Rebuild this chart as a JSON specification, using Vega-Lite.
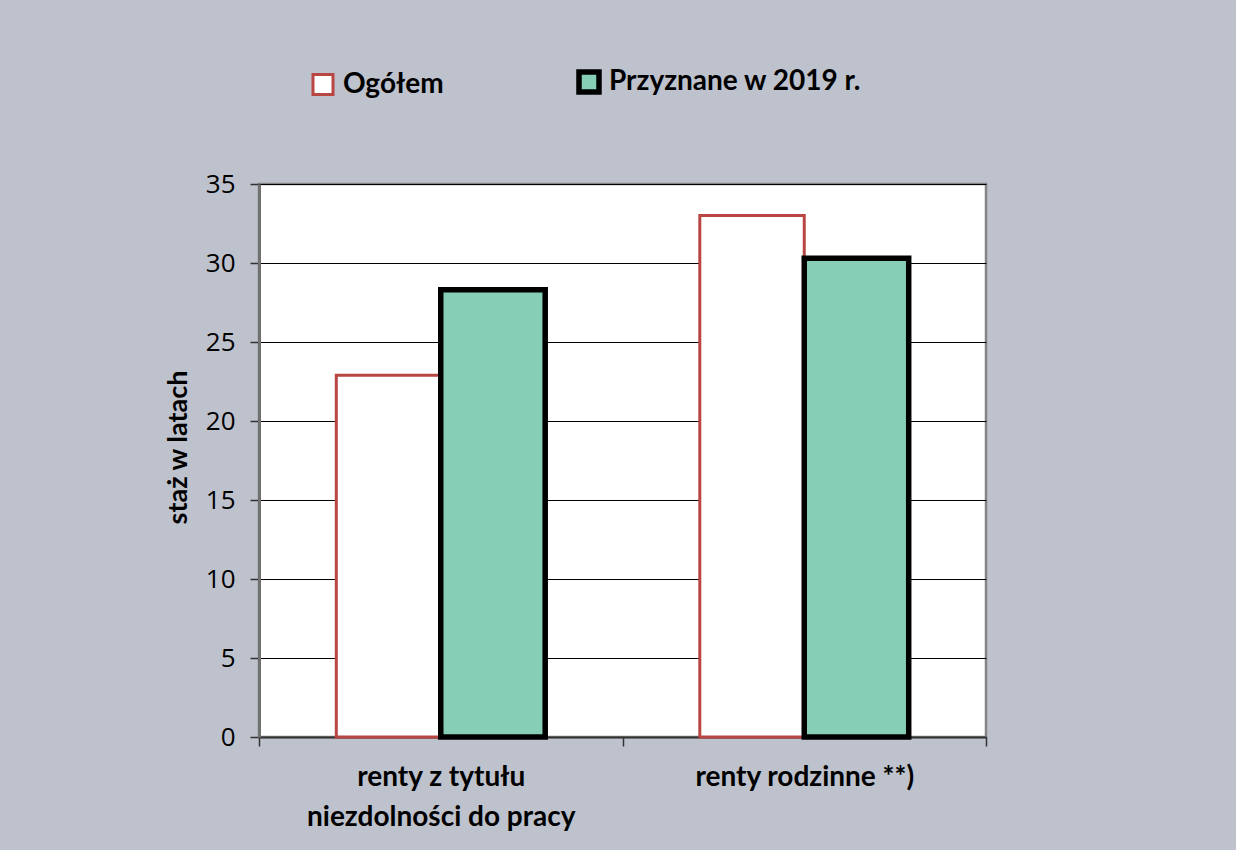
{
  "$schema": "https://vega.github.io/schema/vega-lite/v6.json",
  "width": 727,
  "height": 553,
  "autosize": {"type": "none"},
  "padding": {"left": 259, "top": 184, "right": 250, "bottom": 113},
  "background": "#BEC2CD",
  "config": {
    "view": {"fill": "white", "stroke": "#858585", "strokeWidth": 2.5},
    "font": "Lato"
  },
  "data": {
    "values": [
      {"kategoria": "renty z tytułu niezdolności do pracy", "seria": "Ogółem", "wartosc": 22.9},
      {"kategoria": "renty z tytułu niezdolności do pracy", "seria": "Przyznane w 2019 r.", "wartosc": 28.3},
      {"kategoria": "renty rodzinne **)", "seria": "Ogółem", "wartosc": 33.0},
      {"kategoria": "renty rodzinne **)", "seria": "Przyznane w 2019 r.", "wartosc": 30.3}
    ]
  },
  "mark": {"type": "bar", "strokeJoin": "miter"},
  "encoding": {
    "x": {
      "field": "kategoria",
      "type": "nominal",
      "sort": ["renty z tytułu niezdolności do pracy", "renty rodzinne **)"],
      "scale": {"paddingInner": 0, "paddingOuter": 0},
      "axis": {
        "title": null,
        "labelAngle": 0,
        "labelFont": "Lato",
        "labelFontWeight": "bold",
        "labelFontSize": 28,
        "labelColor": "black",
        "labelLineHeight": 40,
        "labelPadding": 17,
        "labelBaseline": "top",
        "labelLimit": 500,
        "labelExpr": "datum.label == 'renty z tytułu niezdolności do pracy' ? ['renty z tytułu', 'niezdolności do pracy'] : datum.label",
        "tickBand": "extent",
        "tickSize": 9,
        "tickColor": "#333333",
        "tickWidth": 1.5,
        "domainColor": "#333333",
        "domainWidth": 2,
        "grid": false
      }
    },
    "xOffset": {
      "field": "seria",
      "type": "nominal",
      "sort": ["Ogółem", "Przyznane w 2019 r."],
      "scale": {"paddingInner": 0, "paddingOuter": 0.74}
    },
    "y": {
      "field": "wartosc",
      "type": "quantitative",
      "scale": {"domain": [0, 35], "nice": false},
      "axis": {
        "title": "staż w latach",
        "titleFont": "Lato",
        "titleFontWeight": "bold",
        "titleFontSize": 27,
        "titleColor": "black",
        "titleX": -73,
        "titleY": 263,
        "titleAngle": -90,
        "titleAlign": "center",
        "titleBaseline": "alphabetic",
        "values": [0, 5, 10, 15, 20, 25, 30, 35],
        "labelFont": "Open Sans",
        "labelFontSize": 26,
        "labelColor": "black",
        "labelPadding": 15,
        "tickSize": 9,
        "tickColor": "#333333",
        "tickWidth": 1.5,
        "domainColor": "#707070",
        "domainWidth": 3,
        "gridColor": "black",
        "gridWidth": 1.2,
        "gridOpacity": 1
      }
    },
    "fill": {
      "field": "seria",
      "type": "nominal",
      "scale": {"domain": ["Ogółem", "Przyznane w 2019 r."], "range": ["#FFFFFF", "#86CFB6"]},
      "legend": {
        "title": null,
        "orient": "none",
        "direction": "horizontal",
        "legendX": 50,
        "legendY": -116,
        "columns": 2,
        "columnPadding": 124,
        "symbolType": "square",
        "symbolSize": 400,
        "symbolStrokeWidth": 4,
        "labelFont": "Lato",
        "labelFontWeight": "bold",
        "labelFontSize": 28,
        "labelColor": "black",
        "labelOffset": 6,
        "labelLimit": 400
      }
    },
    "stroke": {
      "field": "seria",
      "type": "nominal",
      "scale": {"domain": ["Ogółem", "Przyznane w 2019 r."], "range": ["#BA4644", "#000000"]},
      "legend": null
    },
    "strokeWidth": {
      "field": "seria",
      "type": "nominal",
      "scale": {"domain": ["Ogółem", "Przyznane w 2019 r."], "range": [3, 5.5]},
      "legend": null
    }
  }
}
